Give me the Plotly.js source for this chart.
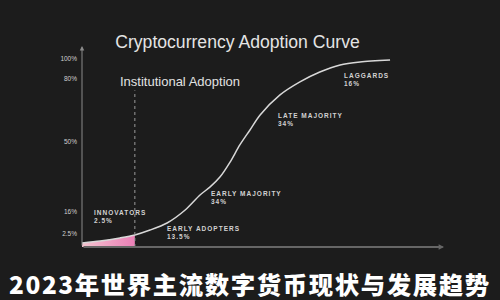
<!DOCTYPE html>
<html>
<head>
<meta charset="utf-8">
<script src="https://cdn.plot.ly/plotly-3.0.1.min.js"></script>
<style>
  html, body { margin: 0; padding: 0; background: #1c1c1c; }
  #chart { width: 500px; height: 300px; }
</style>
</head>
<body>
<div id="chart"></div>
<script>
// Adoption curve: time on x, adoption height on y (0-100 display units)
const timeAxis = [0, 5.0, 10.5, 14.6, 18.8, 23.5, 28.5, 32.6, 35.4, 38.1, 40.9, 43.6, 46.4, 49.2, 54.7, 60.2, 65.7, 71.3, 76.8, 85.1];
const adoptionLevel = [2.0, 3.0, 4.6, 6.1, 8.6, 12.2, 18.8, 26.4, 30.5, 35.5, 43.1, 51.8, 59.4, 67.0, 77.2, 83.8, 88.8, 92.4, 93.9, 94.9];

// Innovators share of the curve (first 4 points, up to the institutional marker)
const innovatorsCount = 4;

// Cumulative adoption tick labels and their heights on the curve
const yTickText = ['2.5%', '16%', '50%', '80%', '100%'];
const yTickVals = [6.6, 17.8, 53.3, 85.3, 95.4];

// Adopter segments
const segmentNames = ['INNOVATORS', 'EARLY ADOPTERS', 'EARLY MAJORITY', 'LATE MAJORITY', 'LAGGARDS'];
const segmentShares = ['2.5%', '13.5%', '34%', '34%', '16%'];
const segmentLabelX = [2.8, 22.9, 35.1, 53.6, 71.8];
const segmentLabelY = [15.5, 7.4, 25.1, 64.7, 84.8];

const instX = timeAxis[innovatorsCount - 1];

const labelFont = { family: 'Liberation Sans, Arial, sans-serif', size: 6.5, color: '#d2d2d2', weight: 700 };
const spaced = s => '<span style="letter-spacing:1px">' + s + '</span>';

const traces = [
  {
    x: timeAxis.slice(0, innovatorsCount),
    y: adoptionLevel.slice(0, innovatorsCount),
    type: 'scatter', mode: 'lines',
    line: { width: 0 },
    fill: 'tozeroy',
    fillgradient: { type: 'horizontal', colorscale: [[0, '#f4c4cf'], [1, '#ea7fb6']] },
    hoverinfo: 'skip', showlegend: false
  },
  {
    x: timeAxis, y: adoptionLevel,
    type: 'scatter', mode: 'lines',
    line: { color: '#d8d8d8', width: 1.5, shape: 'spline', smoothing: 0.8 },
    hoverinfo: 'skip', showlegend: false
  }
];

const annotations = segmentNames.map((name, i) => ({
  x: segmentLabelX[i], y: segmentLabelY[i], xref: 'x', yref: 'y',
  xanchor: 'left', yanchor: 'middle', align: 'left',
  text: spaced(name) + '<br>' + spaced(segmentShares[i]),
  showarrow: false, font: labelFont
}));

annotations.push(
  // y axis with arrowhead
  { x: 0, y: 102, ax: 0, ay: 0, xref: 'x', yref: 'y', axref: 'x', ayref: 'y',
    showarrow: true, arrowhead: 2, arrowsize: 0.9, arrowwidth: 1, arrowcolor: '#8a8a8a', text: '' },
  // x axis with arrowhead
  { x: 100, y: 0, ax: 0, ay: 0, xref: 'x', yref: 'y', axref: 'x', ayref: 'y',
    showarrow: true, arrowhead: 2, arrowsize: 0.6, arrowwidth: 1.8, arrowcolor: '#666666', text: '' },
  { x: instX - 4.6, y: 84, xref: 'x', yref: 'y', xanchor: 'left', yanchor: 'middle',
    text: 'Institutional Adoption', showarrow: false,
    font: { family: 'Liberation Sans, Arial, sans-serif', size: 13, color: '#e2e2e2' } },
  { x: 46.4, y: -7.8, xref: 'x', yref: 'y', xanchor: 'center', yanchor: 'middle',
    text: 'Time', showarrow: false,
    font: { family: 'Liberation Sans, Arial, sans-serif', size: 6, color: '#bdbdbd' } },
  { x: 0.464, y: -0.185, xref: 'paper', yref: 'paper', xanchor: 'center', yanchor: 'middle',
    text: '<span style="letter-spacing:1.6px">2023年世界主流数字货币现状与发展趋势</span>', showarrow: false,
    font: { family: 'Noto Sans CJK SC, sans-serif', size: 24.4, color: '#ffffff', weight: 900 } }
);

const layout = {
  width: 500, height: 300,
  paper_bgcolor: '#1c1c1c', plot_bgcolor: '#1c1c1c',
  margin: { l: 82, r: 56, t: 50, b: 53 },
  title: {
    text: 'Cryptocurrency Adoption Curve',
    x: 0.475, xanchor: 'center', y: 0.86, yanchor: 'middle',
    font: { family: 'Liberation Sans, Arial, sans-serif', size: 17.6, color: '#e4e4e4' }
  },
  xaxis: {
    range: [0, 100], showgrid: false, zeroline: false, showline: false,
    showticklabels: false, ticks: '', fixedrange: true
  },
  yaxis: {
    range: [0, 100], showgrid: false, zeroline: false, showline: false,
    tickvals: yTickVals, ticktext: yTickText, ticks: '',
    ticklabelstandoff: 4,
    tickfont: { family: 'Liberation Sans, Arial, sans-serif', size: 6.5, color: '#cfcfcf' },
    fixedrange: true
  },
  shapes: [
    { type: 'line', xref: 'x', yref: 'y', x0: instX, x1: instX, y0: 0, y1: 79.5,
      line: { color: '#9a9a9a', width: 1, dash: 'dot' } }
  ],
  annotations: annotations,
  showlegend: false
};

Plotly.newPlot('chart', traces, layout, { displayModeBar: false, staticPlot: true });
</script>
</body>
</html>
